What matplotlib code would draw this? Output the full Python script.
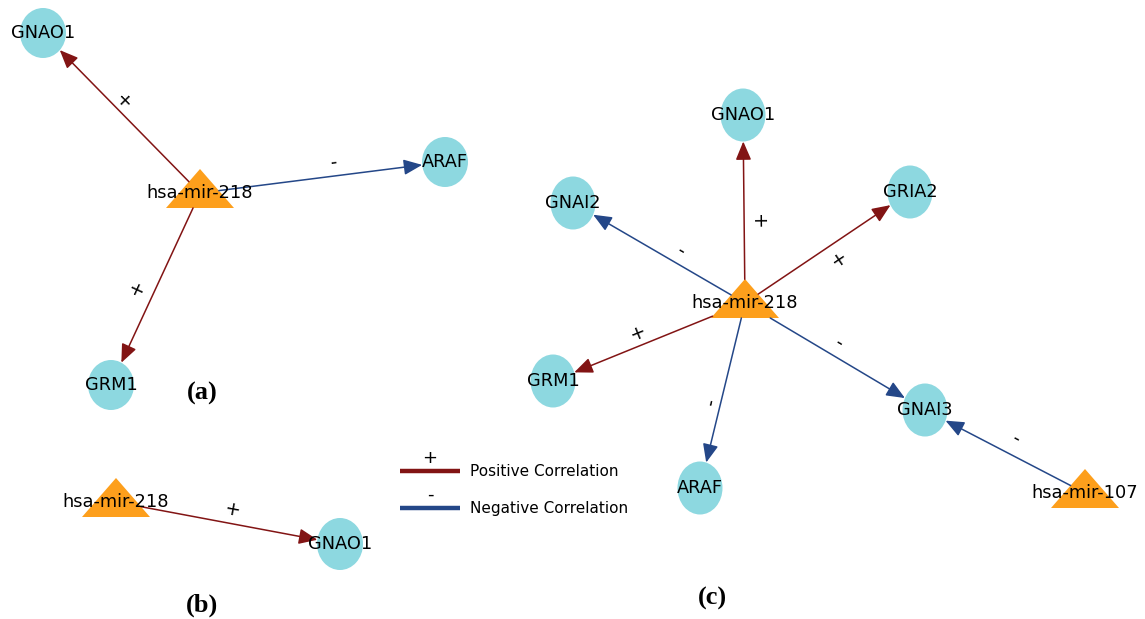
import math
import matplotlib
matplotlib.use("Agg")
import matplotlib.pyplot as plt
from matplotlib.patches import Ellipse, Polygon, FancyArrowPatch

# node layout (pixel coords of the original figure, y pointing down)
a_names = ['hsa-mir-218', 'GNAO1', 'ARAF', 'GRM1']
a_kind = ['mir', 'gene', 'gene', 'gene']
a_x = [200, 43, 445, 111]
a_y = [193, 33, 162, 385]
a_edges = [(0, 1, '+'), (0, 2, '-'), (0, 3, '+')]

b_names = ['hsa-mir-218', 'GNAO1']
b_kind = ['mir', 'gene']
b_x = [116, 340]
b_y = [502, 544]
b_edges = [(0, 1, '+')]

c_names = ['hsa-mir-218', 'GNAO1', 'GNAI2', 'GRIA2', 'GRM1', 'ARAF', 'GNAI3', 'hsa-mir-107']
c_kind = ['mir', 'gene', 'gene', 'gene', 'gene', 'gene', 'gene', 'mir']
c_x = [745, 743, 573, 910, 553, 700, 925, 1085]
c_y = [303, 115, 203, 192, 381, 488, 410, 493]
c_edges = [(0, 1, '+'), (0, 2, '-'), (0, 3, '+'), (0, 4, '+'),
           (0, 5, '-'), (0, 6, '-'), (7, 6, '-')]

# where the edge sign sits: fraction along edge, sideways offset
a_lab = [(0.53, -9), (0.55, 13), (0.53, -17)]
b_lab = [(0.51, 14)]
c_lab = [(0.43, -13), (0.41, -12), (0.52, -16), (0.53, -12),
         (0.55, -9), (0.48, 13), (0.48, -16)]

legend_items = [('+', 'Positive Correlation'), ('-', 'Negative Correlation')]

GENE_C = '#8dd8e0'
MIR_C = '#fd9f1c'
POS_C = '#821414'
NEG_C = '#244788'

fig = plt.figure(figsize=(11.45, 6.19), dpi=100)
ax = fig.add_axes([0, 0, 1, 1])
ax.set_xlim(0, 1145)
ax.set_ylim(619, 0)
ax.axis('off')


def draw_net(names, kind, xs, ys, edges, labs, gw, gh):
    patches = []
    for n, k, x, y in zip(names, kind, xs, ys):
        if k == 'gene':
            p = Ellipse((x, y), gw, gh, facecolor=GENE_C, edgecolor='none', zorder=1)
        else:
            p = Polygon([(x - 34, y + 15), (x + 34, y + 15), (x, y - 24)],
                        closed=True, facecolor=MIR_C, edgecolor='none', zorder=1)
        ax.add_patch(p)
        patches.append(p)
        ax.text(x, y, n, ha='center', va='center', fontsize=12.8,
                family='DejaVu Sans', zorder=4)
    for (s, t, sign), (frac, off) in zip(edges, labs):
        col = POS_C if sign == '+' else NEG_C
        arr = FancyArrowPatch((xs[s], ys[s]), (xs[t], ys[t]),
                              patchA=patches[s], patchB=patches[t],
                              shrinkA=0, shrinkB=0,
                              arrowstyle='-|>,head_length=0.9,head_width=0.38',
                              mutation_scale=12.5, color=col, lw=1.1, zorder=2)
        ax.add_patch(arr)
        dx = xs[t] - xs[s]
        dy = ys[t] - ys[s]
        L = math.hypot(dx, dy)
        ux, uy = dx / L, dy / L
        lx = xs[s] + frac * dx + off * uy
        ly = ys[s] + frac * dy - off * ux
        ang = math.degrees(math.atan2(-dy, dx))
        if ang > 90:
            ang -= 180
        if ang < -90:
            ang += 180
        ax.text(lx, ly, sign, ha='center', va='center', fontsize=13.5,
                rotation=ang, rotation_mode='anchor', zorder=4)


draw_net(a_names, a_kind, a_x, a_y, a_edges, a_lab, 46, 50)
draw_net(b_names, b_kind, b_x, b_y, b_edges, b_lab, 46, 52)
draw_net(c_names, c_kind, c_x, c_y, c_edges, c_lab, 45, 53)

# legend
for i, (sym, txt) in enumerate(legend_items):
    yy = 471 + i * 37
    ax.plot([400, 460], [yy, yy], color=POS_C if sym == '+' else NEG_C,
            lw=3.2, solid_capstyle='butt')
    ax.text(430, yy - 13, sym, ha='center', va='center', fontsize=13)
    ax.text(470, yy, txt, ha='left', va='center', fontsize=11)

# panel letters
for lab, px, py in [('(a)', 202, 393), ('(b)', 202, 605), ('(c)', 712, 598)]:
    ax.text(px, py, lab, ha='center', va='center', fontsize=19,
            fontweight='bold', family='Liberation Serif')

fig.savefig('out.png', dpi=100)
